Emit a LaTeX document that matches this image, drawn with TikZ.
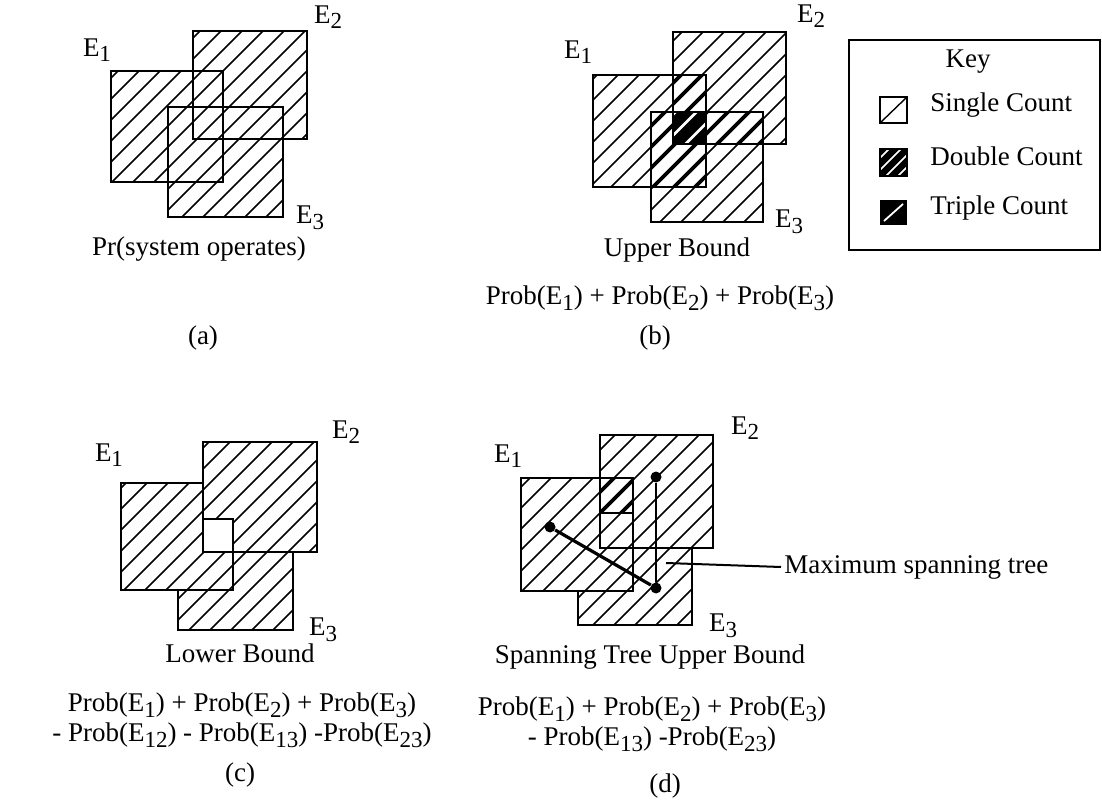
\documentclass[tikz,border=0pt]{standalone}
\usepackage{fontspec}
\setmainfont{Liberation Serif}
\usetikzlibrary{positioning}

\newcommand{\ix}[1]{\raisebox{-0.45ex}{\fontsize{11.5}{11.5}\selectfont #1}}
\newcommand{\hatchlines}[1]{\foreach \k in {0,...,70} \draw[line width=#1] (21*\k,0) -- ++(-900,900);}

\begin{document}
\begin{tikzpicture}[
    x=0.5pt, y=-0.5pt,
    lbl/.style={font=\fontsize{13.5}{15}\selectfont, inner sep=0pt, align=center},
    outline/.style={draw, line width=1.3pt},
    dot/.style={circle, fill, minimum size=5.5pt, inner sep=0pt},
    tree/.style={line width=1.6pt},
    leader/.style={line width=1pt}
]
\useasboundingbox (0,0) rectangle (1102,807);

% --- (a) system operates ---
\begin{scope}
    \clip (111,71) rectangle (223,182) (193,31) rectangle (307,139) (168,107) rectangle (283,217);
    \hatchlines{0.75pt}
\end{scope}
\draw[outline] (111,71) rectangle (223,182);
\draw[outline] (193,31) rectangle (307,139);
\draw[outline] (168,107) rectangle (283,217);
\node[lbl] (aE1) at (97,50) {E\ix{1}};
\node[lbl] (aE2) at (328,17) {E\ix{2}};
\node[lbl] (aE3) at (310,218) {E\ix{3}};
\node[lbl] (acap) at (199,249) {Pr(system operates)};
\node[lbl] (atag) at (203,338) {(a)};

% --- (b) upper bound ---
\begin{scope}
    \clip (593,75) rectangle (706,187) (673,32) rectangle (786,144) (651,112) rectangle (763,222);
    \hatchlines{0.75pt}
\end{scope}
\begin{scope}
    \clip (673,75) rectangle (706,144) (651,112) rectangle (706,187) (673,112) rectangle (763,144);
    \hatchlines{1.9pt}
\end{scope}
\begin{scope}
    \clip (673,112) rectangle (706,144);
    \hatchlines{6pt}
\end{scope}
\draw[outline] (593,75) rectangle (706,187);
\draw[outline] (673,32) rectangle (786,144);
\draw[outline] (651,112) rectangle (763,222);
\node[lbl] (bE1) at (578,52) {E\ix{1}};
\node[lbl] (bE2) at (811,16) {E\ix{2}};
\node[lbl] (bE3) at (789,222) {E\ix{3}};
\node[lbl] (bcap) at (677,250) {Upper Bound};
\node[lbl] (bsum) at (660,298) {Prob(E\ix{1})\ +\ Prob(E\ix{2})\ +\ Prob(E\ix{3})};
\node[lbl] (btag) at (655,338) {(b)};

% --- key ---
\draw[outline] (849,40) rectangle (1100,250);
\node[lbl] (key) at (968,62) {Key};
\draw[line width=1pt] (880,97) rectangle (907,123);
\draw[line width=0.7pt] (880,123) -- (907,97);
\begin{scope}
    \clip (880,149) rectangle (907,176);
    \foreach \k in {84,...,92} \draw[line width=3.2pt] (12*\k,0) -- ++(-900,900);
\end{scope}
\draw[line width=1pt] (880,149) rectangle (907,176);
\fill (880,200) rectangle (907,225);
\draw[white, line width=0.9pt] (884,221) -- (903,204);
\node[lbl, anchor=west] (single) at (930,105) {Single Count};
\node[lbl, anchor=west] (double) at (930,156) {Double Count};
\node[lbl, anchor=west] (triple) at (930,208) {Triple Count};

% --- (c) lower bound ---
\begin{scope}
    \clip (121,483) rectangle (233,590) (203,442) rectangle (317,552) (178,519) rectangle (293,630);
    \hatchlines{0.75pt}
\end{scope}
\fill[white] (203,519) rectangle (233,552);
\draw[outline] (203,442) rectangle (317,552);
\draw[outline] (203,483) -- (121,483) -- (121,590) -- (233,590) -- (233,519) -- (203,519);
\draw[outline] (178,590) -- (178,630) -- (293,630) -- (293,552);
\node[lbl] (cE1) at (109,455) {E\ix{1}};
\node[lbl] (cE2) at (346,432) {E\ix{2}};
\node[lbl] (cE3) at (323,630) {E\ix{3}};
\node[lbl] (ccap) at (240,653) {Lower Bound};
\node[lbl] (csum) at (242,720) {Prob(E\ix{1})\ +\ Prob(E\ix{2})\ +\ Prob(E\ix{3})\\
    - Prob(E\ix{12})\ -\ Prob(E\ix{13})\ -Prob(E\ix{23})};
\node[lbl] (ctag) at (240,775) {(c)};

% --- (d) spanning tree upper bound ---
\begin{scope}
    \clip (521,478) rectangle (633,591) (600,435) rectangle (713,548) (578,513) rectangle (692,625);
    \hatchlines{0.75pt}
\end{scope}
\begin{scope}
    \clip (600,478) rectangle (633,513);
    \hatchlines{1.9pt}
\end{scope}
\draw[outline] (521,478) rectangle (633,591);
\draw[outline] (600,435) rectangle (713,548);
\draw[outline] (578,591) -- (578,625) -- (692,625) -- (692,548);
\draw[outline] (600,513) -- (633,513);
\node[lbl] (dE1) at (508,456) {E\ix{1}};
\node[lbl] (dE2) at (745,428) {E\ix{2}};
\node[lbl] (dE3) at (723,626) {E\ix{3}};

% --- spanning tree ---
\node[dot] (t1) at (550,527) {};
\node[dot] (t2) at (656,477) {};
\node[dot] (t3) at (656,588) {};
\draw[tree] (t1) -- (t3);
\draw[tree, line width=1pt] (t2) -- (t3);
\coordinate (lead) at (666,563);
\node[lbl, anchor=west, inner sep=1.5pt] (mst) at (781,567) {Maximum spanning tree};
\draw[leader] (lead) -- (mst.west);

\node[lbl] (dcap) at (650,657) {Spanning Tree Upper Bound};
\node[lbl] (dsum) at (652,724) {Prob(E\ix{1})\ +\ Prob(E\ix{2})\ +\ Prob(E\ix{3})\\
    - Prob(E\ix{13})\ -Prob(E\ix{23})};
\node[lbl] (dtag) at (665,786) {(d)};

\end{tikzpicture}
\end{document}
